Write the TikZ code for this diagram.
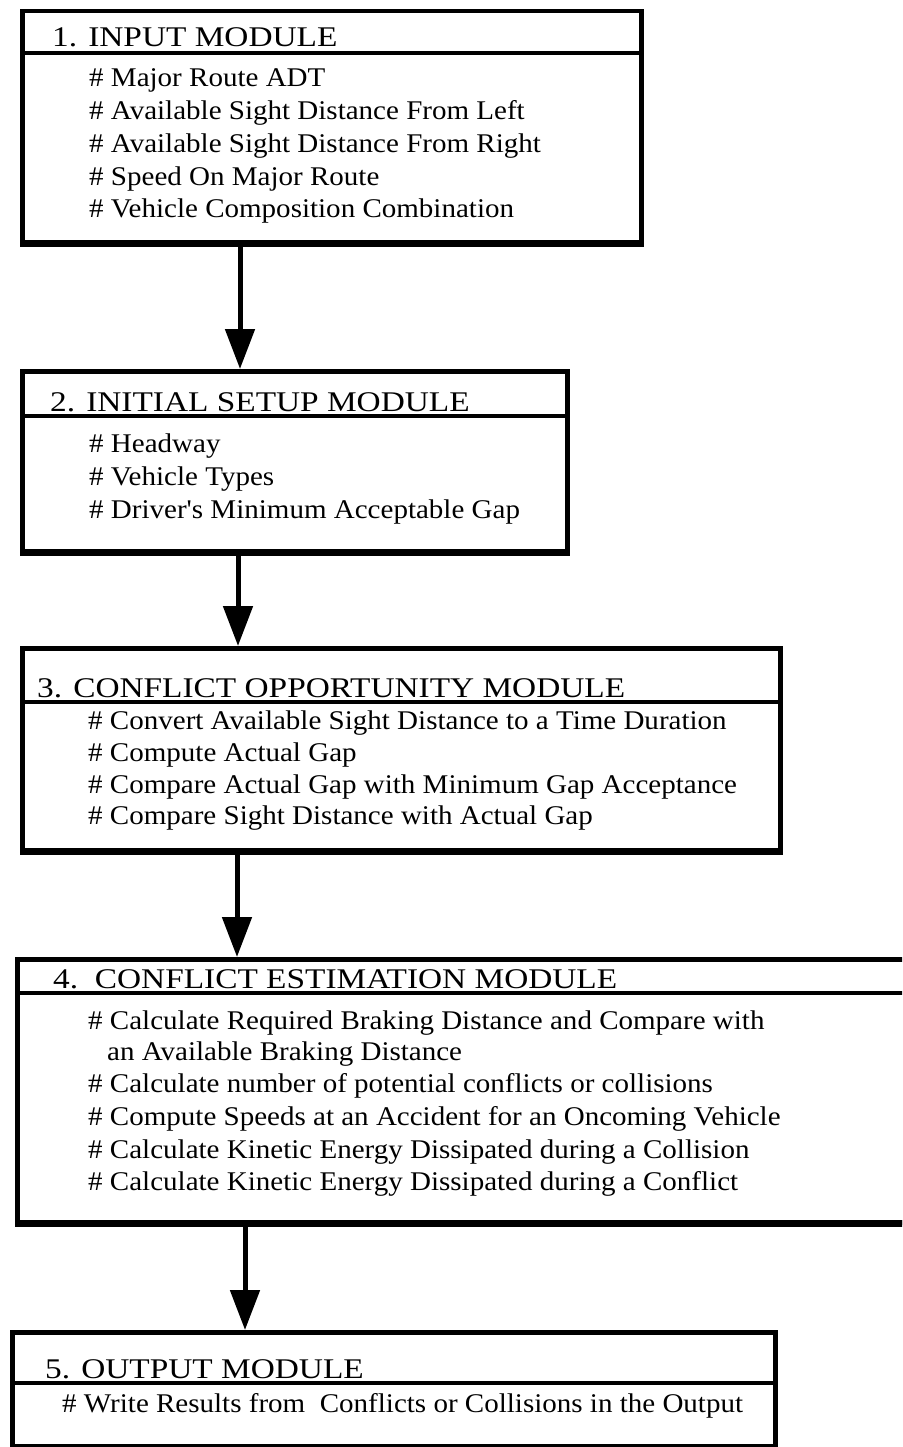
\documentclass[tikz,border=0pt]{standalone}
\usepackage{fontspec}
\setmainfont{Liberation Serif}
\newfontfamily\itemfont[FakeStretch=1.075]{Liberation Serif}
\newfontfamily\hdrfont[FakeStretch=1.17]{Liberation Serif}
\usetikzlibrary{arrows.meta}
\tikzset{
  box/.style={draw, line width=4.5pt, rectangle, inner sep=0pt, anchor=north west},
  hdr/.style={anchor=base west, inner sep=0pt, font=\hdrfont\fontsize{28.5}{28.5}\selectfont},
  itm/.style={anchor=base west, inner sep=0pt, font=\itemfont\fontsize{27}{27}\selectfont},
  divider/.style={line width=4.5pt},
  heavy/.style={line width=6.5pt},
  flow/.style={line width=5pt, -{Triangle[length=40pt,width=29pt]}},
}
\begin{document}
\begin{tikzpicture}[x=1pt,y=-1pt]
\useasboundingbox (0,0) rectangle (902,1447);
\clip (0,0) rectangle (902,1447);
% boxes
\node[box, minimum width=619pt, minimum height=231pt] (b1) at (20,9) {};
\node[box, minimum width=545pt, minimum height=180pt] (b2) at (20,369) {};
\node[box, minimum width=758pt, minimum height=202pt] (b3) at (20,646) {};
\node[box, minimum width=905pt, minimum height=263pt] (b4) at (15,957) {};
\node[box, minimum width=763pt, minimum height=114pt] (b5) at (10,1330) {};
% heavier bottom edges
\draw[heavy] ([yshift=1pt]b1.south west) -- ([yshift=1pt]b1.south east);
\draw[heavy] ([yshift=1pt]b2.south west) -- ([yshift=1pt]b2.south east);
\draw[heavy] ([yshift=1pt]b3.south west) -- ([yshift=1pt]b3.south east);
\draw[heavy] ([yshift=1pt]b4.south west) -- ([yshift=1pt]b4.south east);
% dividers
\draw[divider] (b1.west |- 0,53) -- (b1.east |- 0,53);
\draw[divider] (b2.west |- 0,416) -- (b2.east |- 0,416);
\draw[divider] (b3.west |- 0,702) -- (b3.east |- 0,702);
\draw[divider] (b4.west |- 0,993) -- (b4.east |- 0,993);
\draw[divider] (b5.west |- 0,1383) -- (b5.east |- 0,1383);
% arrows
\coordinate (c1) at (240,0);
\coordinate (c2) at (238,0);
\coordinate (c3) at (237,0);
\coordinate (c4) at (245,0);
\draw[flow] (b1.south -| c1) -- (b2.north -| c1);
\draw[flow] (b2.south -| c2) -- (b3.north -| c2);
\draw[flow] (b3.south -| c3) -- (b4.north -| c3);
\draw[flow] (b4.south -| c4) -- (b5.north -| c4);
% box 1
\node[hdr] (h1) at (52,47) {1. INPUT MODULE};
\node[itm] (t11) at (89,87) {\# Major Route ADT};
\node[itm] (t12) at (89,120) {\# Available Sight Distance From Left};
\node[itm] (t13) at (89,153) {\# Available Sight Distance From Right};
\node[itm] (t14) at (89,186) {\# Speed On Major Route};
\node[itm] (t15) at (89,218) {\# Vehicle Composition Combination};
% box 2
\node[hdr] (h2) at (50,411) {2. INITIAL SETUP MODULE};
\node[itm] (t21) at (89,452) {\# Headway};
\node[itm] (t22) at (89,485) {\# Vehicle Types};
\node[itm] (t23) at (89,518) {\# Driver's Minimum Acceptable Gap};
% box 3
\node[hdr] (h3) at (37,697) {3. CONFLICT OPPORTUNITY MODULE};
\node[itm] (t31) at (88,729) {\# Convert Available Sight Distance to a Time Duration};
\node[itm] (t32) at (88,761) {\# Compute Actual Gap};
\node[itm] (t33) at (88,793) {\# Compare Actual Gap with Minimum Gap Acceptance};
\node[itm] (t34) at (88,824) {\# Compare Sight Distance with Actual Gap};
% box 4
\node[hdr] (h4) at (53,988) {4.\ \ CONFLICT ESTIMATION MODULE};
\node[itm] (t41) at (88,1029) {\# Calculate Required Braking Distance and Compare with};
\node[itm] (t42) at (107,1060) {an Available Braking Distance};
\node[itm] (t43) at (88,1092) {\# Calculate number of potential conflicts or collisions};
\node[itm] (t44) at (88,1125) {\# Compute Speeds at an Accident for an Oncoming Vehicle};
\node[itm] (t45) at (88,1158) {\# Calculate Kinetic Energy Dissipated during a Collision};
\node[itm] (t46) at (88,1190) {\# Calculate Kinetic Energy Dissipated during a Conflict};
% box 5
\node[hdr] (h5) at (45,1378) {5. OUTPUT MODULE};
\node[itm] (t51) at (62,1412) {\# Write Results from\ \ Conflicts or Collisions in the Output};
\end{tikzpicture}
\end{document}
